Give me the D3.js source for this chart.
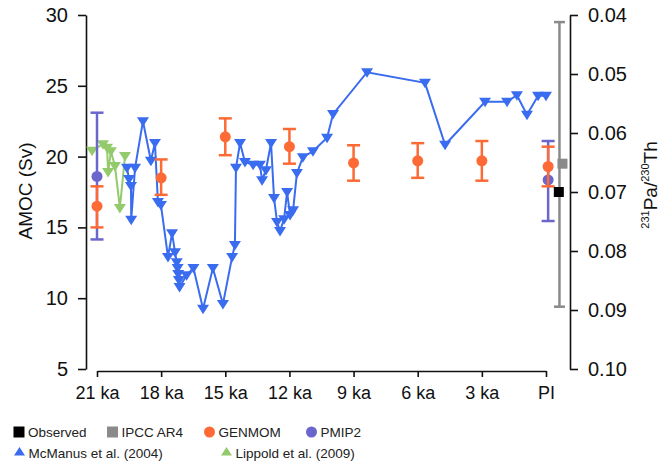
<!DOCTYPE html>
<html>
<head>
<meta charset="utf-8">
<script src="https://cdn.jsdelivr.net/npm/d3@7"></script>
<style>
  body { margin: 0; background: #fff; }
  svg { font-family: "Liberation Sans", Arial, sans-serif; }
</style>
</head>
<body>
<svg width="664" height="463"></svg>
<script>
// McManus et al. (2004), 231Pa/230Th (right axis, reversed)
const mcmanusKa = [19.60, 19.50, 19.41, 19.40, 19.22, 18.85, 18.48, 18.29, 18.15, 18.01,
  17.68, 17.49, 17.35, 17.27, 17.23, 17.20, 17.17, 17.14, 16.81, 16.49,
  16.04, 15.58, 15.11, 14.68, 14.55, 14.50, 14.31, 14.08, 13.70, 13.38,
  13.28, 13.10, 12.86, 12.72, 12.58, 12.44, 12.25, 12.11, 11.97, 11.83,
  11.65, 11.37, 10.90, 10.24, 9.96, 8.37, 5.66, 4.72, 2.85, 1.82,
  1.36, 0.89, 0.37, 0.0];
const mcmanusPaTh = [0.0659, 0.0678, 0.0690, 0.0747, 0.0659, 0.0580, 0.0647, 0.0617, 0.0717, 0.0722,
  0.0810, 0.0770, 0.0802, 0.0819, 0.0829, 0.0839, 0.0849, 0.0861, 0.0841, 0.0829,
  0.0898, 0.0829, 0.0890, 0.0810, 0.0790, 0.0659, 0.0617, 0.0649, 0.0654, 0.0654,
  0.0680, 0.0663, 0.0617, 0.0710, 0.0751, 0.0766, 0.0746, 0.0700, 0.0739, 0.0731,
  0.0668, 0.0641, 0.0631, 0.0608, 0.0568, 0.0497, 0.0515, 0.0620, 0.0547, 0.0547,
  0.0536, 0.0569, 0.0537, 0.0537];

// Lippold et al. (2009)
const lippoldKa = [21.23, 20.72, 20.53, 20.48, 20.35, 20.16, 19.93, 19.69];
const lippoldPaTh = [0.0630, 0.0619, 0.0625, 0.0666, 0.0631, 0.0656, 0.0727, 0.0639];

// GENMOM AMOC (Sv) with range
const genmomKa = [21, 18, 15, 12, 9, 6, 3, -0.1];
const genmomSv = [16.5, 18.5, 21.4, 20.7, 19.55, 19.7, 19.7, 19.3];
const genmomLow = [15.0, 17.3, 20.1, 19.5, 18.3, 18.5, 18.3, 17.9];
const genmomHigh = [17.9, 19.8, 22.7, 21.95, 20.8, 20.95, 21.1, 20.7];

// PMIP2
const pmip2Ka = [21, -0.1];
const pmip2Sv = [18.6, 18.35];
const pmip2Low = [14.15, 15.45];
const pmip2High = [23.1, 21.1];

// IPCC AR4 and observed
const ipccKa = [-0.63];
const ipccSv = [19.5];
const ipccLow = [9.4];
const ipccHigh = [29.5];
const observedKa = [-0.6];
const observedSv = [17.5];

const tickKa = [21, 18, 15, 12, 9, 6, 3, 0];
const tickLabels = ["21 ka", "18 ka", "15 ka", "12 ka", "9 ka", "6 ka", "3 ka", "PI"];
const svTicks = [5, 10, 15, 20, 25, 30];
const paThTicks = [0.04, 0.05, 0.06, 0.07, 0.08, 0.09, 0.10];

const colBlue = "#3a6cf0";
const colGreen = "#93cb6c";
const colOrange = "#fd6a36";
const colPurple = "#6a66cc";
const colGray = "#8a8a8a";

const svg = d3.select("svg");

const x = d3.scaleLinear().domain([21, 0]).range([97, 546]);
const ySv = d3.scaleLinear().domain([5, 30]).range([369, 15]);
const yPa = d3.scaleLinear().domain([0.04, 0.10]).range([15, 369]);

// axes
function styleAxis(g, size) {
  g.selectAll("path, line").attr("stroke", "#111").attr("stroke-width", 1.6);
  g.selectAll("text").attr("font-size", size).attr("fill", "#111")
    .attr("font-family", "Liberation Sans, Arial, sans-serif");
}

svg.append("g").attr("transform", "translate(86,0)")
  .call(d3.axisLeft(ySv).tickValues(svTicks).tickSize(8).tickSizeOuter(0).tickPadding(10)
    .tickFormat(d3.format("d")))
  .call(g => styleAxis(g, 20));

svg.append("g").attr("transform", "translate(570,0)")
  .call(d3.axisRight(yPa).tickValues(paThTicks).tickSize(8).tickSizeOuter(0).tickPadding(10)
    .tickFormat(d3.format(".2f")))
  .call(g => styleAxis(g, 20));

svg.append("g").attr("transform", "translate(0,371)")
  .call(d3.axisBottom(x).tickValues(tickKa).tickSize(6).tickSizeOuter(0).tickPadding(9)
    .tickFormat((d, i) => tickLabels[i]))
  .call(g => styleAxis(g, 18));

svg.selectAll(".domain").attr("fill", "none");

// axis titles
svg.append("text")
  .attr("transform", "translate(32,191) rotate(-90)")
  .attr("text-anchor", "middle")
  .attr("font-size", 19)
  .attr("fill", "#111")
  .text("AMOC (Sv)");

const rt = svg.append("text")
  .attr("transform", "translate(657,185) rotate(-90)")
  .attr("text-anchor", "middle")
  .attr("font-size", 19)
  .attr("fill", "#111");
rt.append("tspan").attr("font-size", 11).attr("dy", -8).text("231");
rt.append("tspan").attr("dy", 8).text("Pa/");
rt.append("tspan").attr("font-size", 11).attr("dy", -8).text("230");
rt.append("tspan").attr("dy", 8).text("Th");

// down-pointing triangle marker
const triDown = "M-6,-4L6,-4L0,5.5Z";
const triUp = "M-5.5,3.5L5.5,3.5L0,-5Z";

function drawRecord(ka, vals, color, cls) {
  const pts = ka.map((k, i) => [x(k), yPa(vals[i])]);
  svg.append("path")
    .attr("d", d3.line()(pts))
    .attr("fill", "none")
    .attr("stroke", color)
    .attr("stroke-width", 2);
  svg.selectAll(`.${cls}`).data(pts).enter()
    .append("path")
    .attr("class", cls)
    .attr("d", triDown)
    .attr("transform", d => `translate(${d[0]},${d[1]})`)
    .attr("fill", color);
}

drawRecord(lippoldKa, lippoldPaTh, colGreen, "lippold");
drawRecord(mcmanusKa, mcmanusPaTh, colBlue, "mcmanus");

function drawErrorPts(ka, mid, lo, hi, color, cls, cap, shape) {
  const g = svg.append("g").attr("class", cls);
  ka.forEach((k, i) => {
    const cx = x(k);
    g.append("line").attr("x1", cx).attr("x2", cx)
      .attr("y1", ySv(lo[i])).attr("y2", ySv(hi[i]))
      .attr("stroke", color).attr("stroke-width", 2.5);
    [lo[i], hi[i]].forEach(v => {
      g.append("line").attr("x1", cx - cap).attr("x2", cx + cap)
        .attr("y1", ySv(v)).attr("y2", ySv(v))
        .attr("stroke", color).attr("stroke-width", 2.5);
    });
    if (shape === "square") {
      g.append("rect").attr("x", cx - 4 + 2).attr("y", ySv(mid[i]) - 5)
        .attr("width", 10).attr("height", 10).attr("fill", color);
    } else {
      g.append("circle").attr("cx", cx).attr("cy", ySv(mid[i]))
        .attr("r", 5.5).attr("fill", color);
    }
  });
}

drawErrorPts(pmip2Ka, pmip2Sv, pmip2Low, pmip2High, colPurple, "pmip2", 6.5, "circle");
drawErrorPts(genmomKa, genmomSv, genmomLow, genmomHigh, colOrange, "genmom", 6.5, "circle");
drawErrorPts(ipccKa, ipccSv, ipccLow, ipccHigh, colGray, "ipcc", 5.5, "square");

svg.selectAll(".observed").data(observedKa).enter()
  .append("rect")
  .attr("class", "observed")
  .attr("x", d => x(d) - 5)
  .attr("y", (d, i) => ySv(observedSv[i]) - 5)
  .attr("width", 10).attr("height", 10)
  .attr("fill", "#000");

// legend
const legendItems = [
  { label: "Observed", shape: "square", color: "#000", lx: 19, ly: 432 },
  { label: "IPCC AR4", shape: "square", color: colGray, lx: 112.5, ly: 432 },
  { label: "GENMOM", shape: "circle", color: colOrange, lx: 209.5, ly: 432 },
  { label: "PMIP2", shape: "circle", color: colPurple, lx: 311.5, ly: 432 },
  { label: "McManus et al. (2004)", shape: "tri", color: colBlue, lx: 19.5, ly: 453 },
  { label: "Lippold et al. (2009)", shape: "tri", color: colGreen, lx: 226.5, ly: 453 }
];

const leg = svg.append("g");
legendItems.forEach(d => {
  if (d.shape === "square") {
    leg.append("rect").attr("x", d.lx - 5.5).attr("y", d.ly - 5.5)
      .attr("width", 11).attr("height", 11).attr("fill", d.color);
  } else if (d.shape === "circle") {
    leg.append("circle").attr("cx", d.lx).attr("cy", d.ly).attr("r", 5.5).attr("fill", d.color);
  } else {
    leg.append("path").attr("d", triUp)
      .attr("transform", `translate(${d.lx},${d.ly - 1})`).attr("fill", d.color);
  }
  leg.append("text")
    .attr("x", d.lx + 9)
    .attr("y", d.ly + 5)
    .attr("font-size", 13.5)
    .attr("fill", "#222")
    .text(d.label);
});
</script>
</body>
</html>
